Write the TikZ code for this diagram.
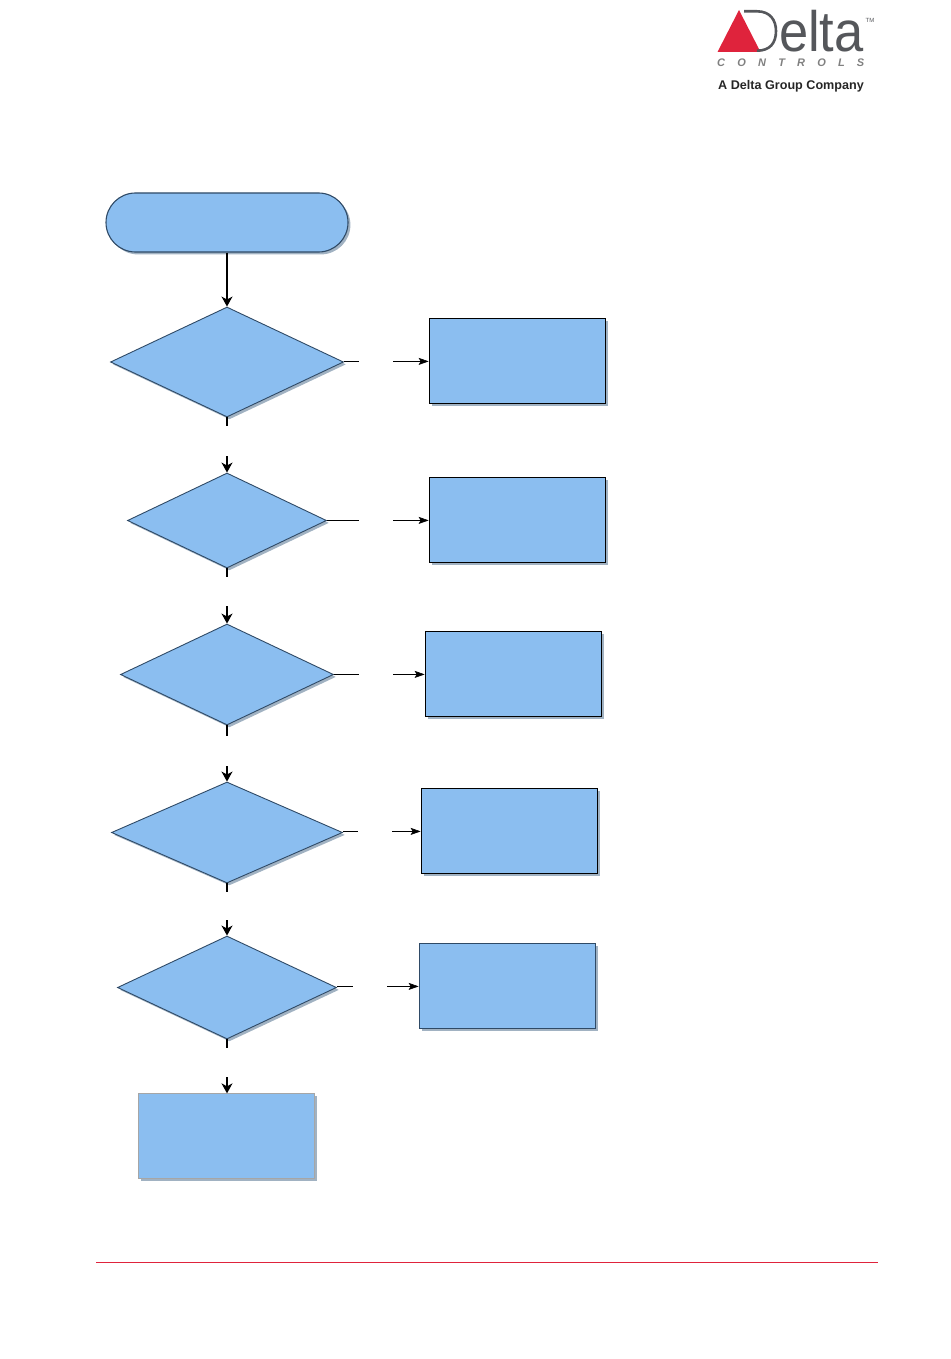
\documentclass[tikz,border=0pt]{standalone}
\usepackage{fontspec}
\setmainfont{Liberation Sans}
\usetikzlibrary{shapes.geometric}
\usetikzlibrary{shapes.misc}
\usetikzlibrary{shadows}
\usetikzlibrary{arrows.meta}
\definecolor{boxblue}{HTML}{8BBEF0}
\definecolor{edgeblue}{HTML}{2F4A66}
\definecolor{deltared}{HTML}{DF233C}
\definecolor{deltagrey}{HTML}{55575B}
\tikzset{
  softshadow/.style={drop shadow={shadow xshift=2.4pt, shadow yshift=-2.4pt, fill=black!40!boxblue, opacity=0.55}},
  startbox/.style={rounded rectangle, draw=edgeblue, fill=boxblue, line width=1.1pt,
    softshadow, minimum width=242pt, minimum height=59pt, inner sep=0pt},
  choicebox/.style={diamond, draw=edgeblue, fill=boxblue, line width=0.9pt,
    softshadow, inner sep=0pt},
  actionbox/.style={rectangle, draw=black, fill=boxblue, line width=1.1pt,
    softshadow, minimum width=176pt, minimum height=85pt, inner sep=0pt},
  downline/.style={line width=1.2pt, black},
  sideline/.style={line width=0.6pt, black},
  downtip/.style={-{Stealth[length=10pt, width=11pt, inset=3pt]}},
  sidetip/.style={-{Stealth[length=10pt, width=7pt, inset=2pt]}}
}
\begin{document}
\begin{tikzpicture}[x=1pt, y=-1pt]
    \path [use as bounding box] (0, 0) rectangle (950, 1359);

    % #1 name, #2 centre y, #3 width, #4 height
    \newcommand{\achoice}[4]{
      \pgfmathsetmacro{\choiceaspect}{#3/#4}
      \node[choicebox, aspect=\choiceaspect, minimum width=#3pt, minimum height=#4pt]
        (#1) at (227, #2) {};
    }
    % #1 choice, #2 stub end, #3 arrow start, #4 box
    \newcommand{\sidelink}[4]{
      \coordinate (#1stub) at (#2, 0 |- #4.west);
      \coordinate (#1tail) at (#3, 0 |- #4.west);
      \draw[sideline] (#1stub -| #1.east) -- (#1stub);
      \draw[sideline, sidetip] (#1tail) -- (#4.west);
    }
    % #1 choice, #2 stub end, #3 arrow start, #4 next
    \newcommand{\downlink}[4]{
      \coordinate (#1down) at (227, #2);
      \coordinate (#1next) at (227, #3);
      \draw[downline] (#1.south) -- (#1down);
      \draw[downline, downtip] (#1next) -- (#4);
    }

    \node[startbox] (start) at (227, 222.5) {};
    \achoice{testa}{362}{233}{110}
    \achoice{testb}{520.5}{199}{95}
    \achoice{testc}{674.5}{213}{101}
    \achoice{testd}{832.5}{231}{101}
    \achoice{teste}{987.5}{219}{103}

    \node[actionbox] (acta) at (517.2, 361.4) {};
    \node[actionbox] (actb) at (517.2, 520.4) {};
    \node[actionbox] (actc) at (513.2, 674.4) {};
    \node[actionbox] (actd) at (509.2, 831.4) {};
    \node[actionbox, draw=edgeblue] (acte) at (507.2, 986.4) {};
    \node[actionbox, draw=black!35] (actf) at (226.2, 1136.4) {};

    \draw[downline, downtip] (start.south -| testa.north) -- (testa.north);
    \downlink{testa}{426}{456}{testb.north}
    \downlink{testb}{577}{606}{testc.north}
    \downlink{testc}{736}{766}{testd.north}
    \downlink{testd}{892}{920}{teste.north}
    \downlink{teste}{1048}{1077}{actf.north -| teste.south}

    \sidelink{testa}{359}{393}{acta}
    \sidelink{testb}{359}{393}{actb}
    \sidelink{testc}{359}{393}{actc}
    \sidelink{testd}{358}{392}{actd}
    \sidelink{teste}{353}{387}{acte}

    % footer rule
    \coordinate (ruleleft) at (96, 1262.5);
    \coordinate (ruleright) at (878, 1262.5);
    \draw[deltared, line width=1pt] (ruleleft) -- (ruleright);

    % logo
    \fill[deltared] (739, 10) -- (760.5, 52) -- (717.5, 52) -- cycle;
    \draw[deltagrey, line width=2.6pt] (744, 11.3) -- (757, 11.3)
      .. controls (770, 11.3) and (776, 20) .. (776, 31)
      .. controls (776, 43) and (770, 50.7) .. (757, 50.7) -- (760, 50.7);
    \node[anchor=base west, inner sep=0pt, text=deltagrey, font=\fontsize{57}{57}\selectfont,
      xscale=0.92] (logoword) at (779, 52) {elta};
    \node[anchor=center, inner sep=0pt, text=deltagrey, font=\fontsize{6}{6}\selectfont] (logotm) at (870, 20) {TM};
    \node[anchor=base west, inner sep=0pt, text=black!50, font=\fontsize{11}{11}\selectfont\bfseries\itshape] (logoline) at (717, 67)
      {C\hspace{12.2pt}O\hspace{12.2pt}N\hspace{12.2pt}T\hspace{12.2pt}R\hspace{12.2pt}O\hspace{12.2pt}L\hspace{12.2pt}S};
    \node[anchor=base west, inner sep=0pt, text=black!85, font=\fontsize{12.6}{13}\selectfont\bfseries] (logotag) at (718, 89.5)
      {A Delta Group Company};
\end{tikzpicture}
\end{document}
